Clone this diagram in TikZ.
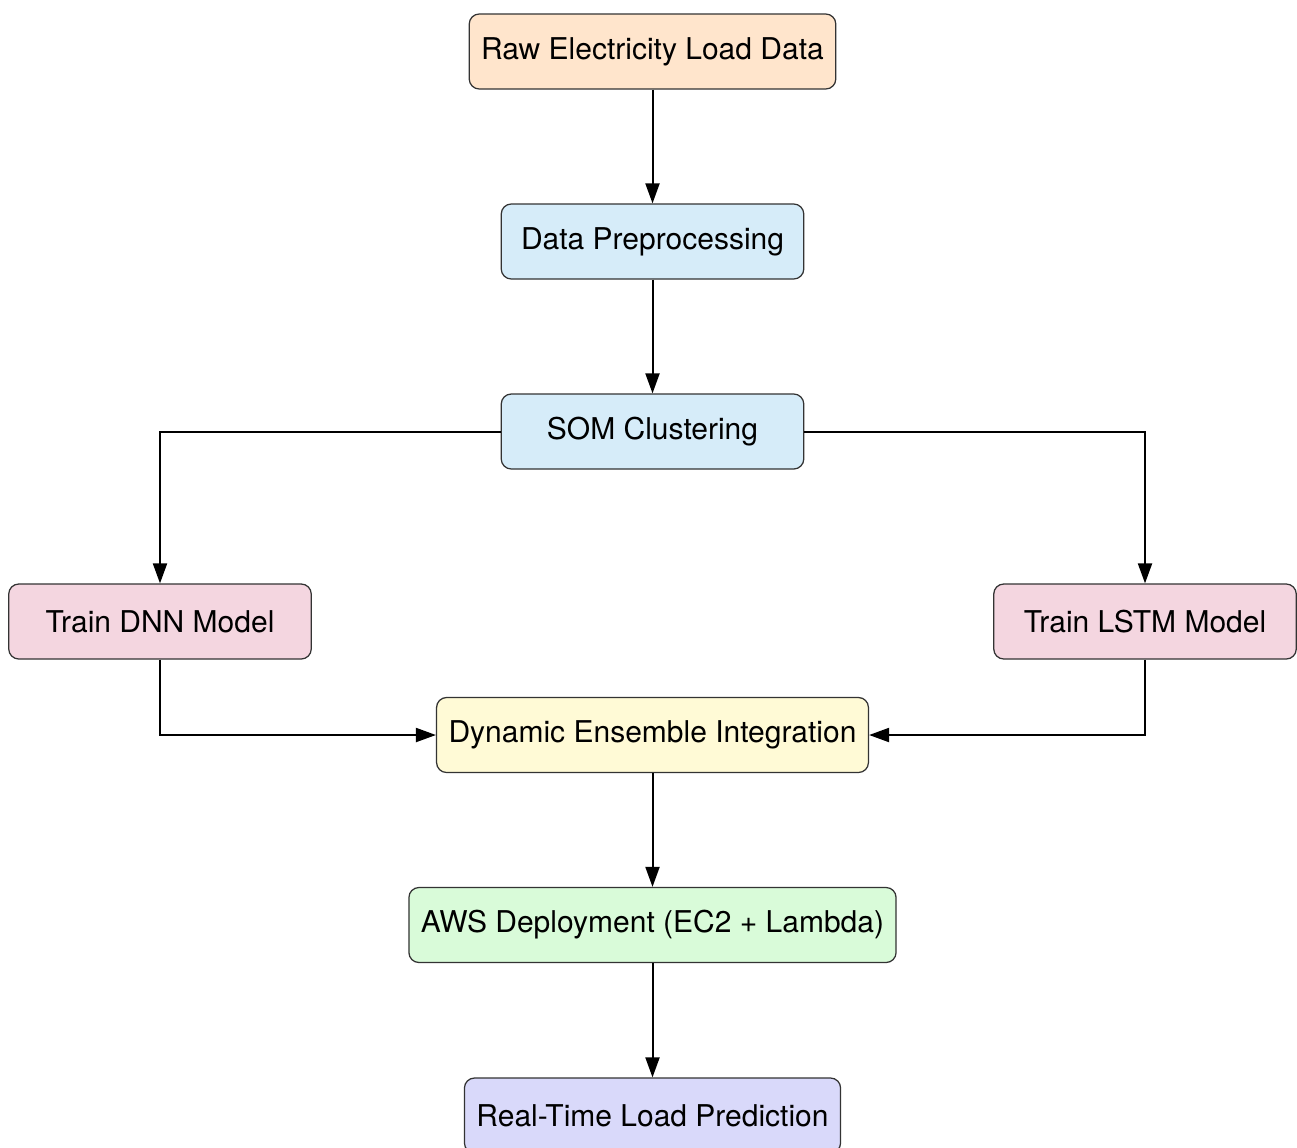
\documentclass[tikz,border=0pt]{standalone}
\usepackage{fontspec}
\setmainfont{TeX Gyre Heros}
\usetikzlibrary{arrows.meta}
\definecolor{cpeach}{RGB}{255,229,204}
\definecolor{cblue}{RGB}{214,236,249}
\definecolor{cpink}{RGB}{244,214,224}
\definecolor{cyellow}{RGB}{255,250,214}
\definecolor{cgreen}{RGB}{217,251,217}
\definecolor{clav}{RGB}{217,217,250}
\begin{document}
\begin{tikzpicture}[x=0.4pt,y=-0.4pt,
  box/.style={draw=black!80, line width=0.5pt, rounded corners=4pt, minimum width=121pt,
    minimum height=30pt, inner xsep=4.8pt, font=\fontsize{12}{14}\selectfont, text=black},
  conn/.style={line width=0.8pt, -{Triangle[length=8pt,width=5.6pt]}}]
\useasboundingbox (0,0) rectangle (1297,1147);
\node[box, fill=cpeach] (raw) at (652.5,51.5) {Raw Electricity Load Data};
\node[box, fill=cblue] (pre) at (652.5,241.5) {Data Preprocessing};
\node[box, fill=cblue] (som) at (652.5,431.5) {SOM Clustering};
\node[box, fill=cpink] (dnn) at (160,621.5) {Train DNN Model};
\node[box, fill=cpink] (lstm) at (1145,621.5) {Train LSTM Model};
\node[box, fill=cyellow] (ens) at (652.5,735) {Dynamic Ensemble Integration};
\node[box, fill=cgreen] (aws) at (652.5,925) {AWS Deployment (EC2 + Lambda)};
\node[box, fill=clav] (rt) at (652.5,1115.5) {Real-Time Load Prediction};
\draw[conn] (raw) -- (pre);
\draw[conn] (pre) -- (som);
\draw[conn] (som.west) -| (dnn.north);
\draw[conn] (som.east) -| (lstm.north);
\draw[conn] (dnn.south) |- (ens.west);
\draw[conn] (lstm.south) |- (ens.east);
\draw[conn] (ens) -- (aws);
\draw[conn] (aws) -- (rt);
\end{tikzpicture}
\end{document}
